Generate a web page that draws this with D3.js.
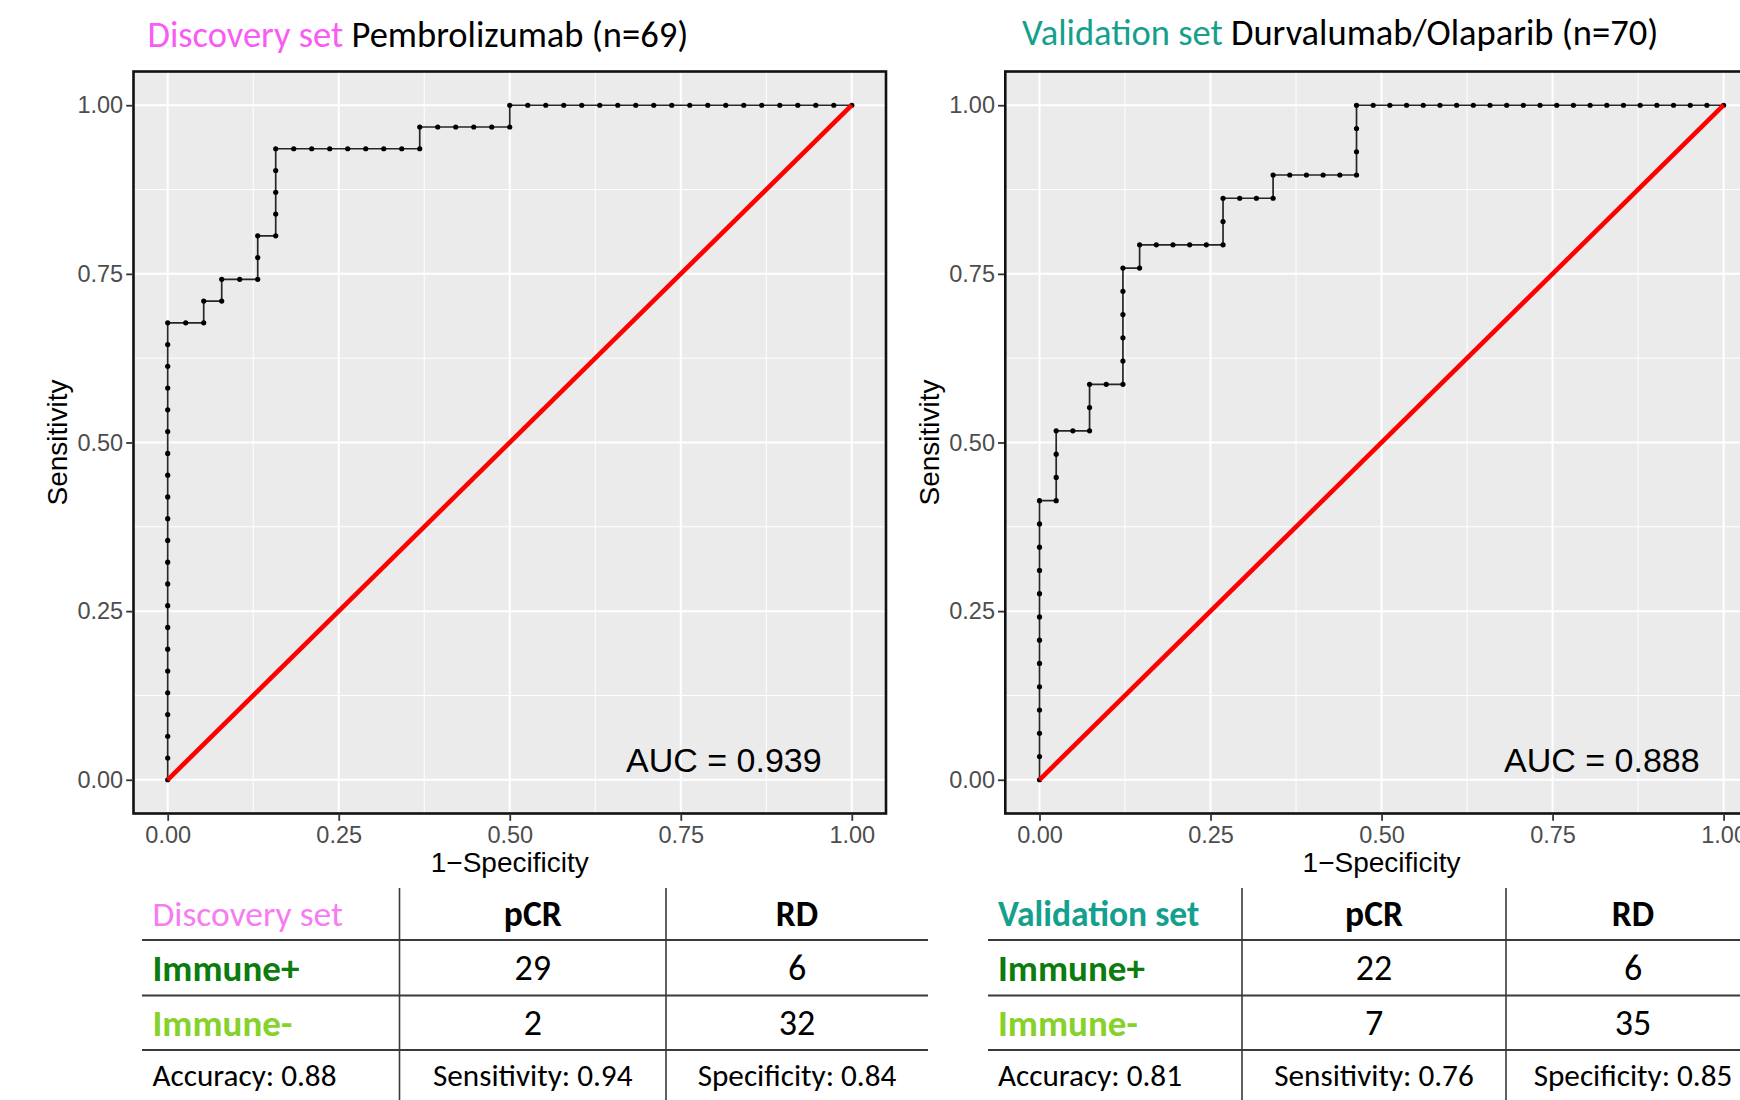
<!DOCTYPE html>
<html>
<head>
<meta charset="utf-8">
<script src="https://cdn.jsdelivr.net/npm/d3@7"></script>
<style>
  html, body { margin: 0; padding: 0; background: #ffffff; }
  svg { display: block; }
</style>
</head>
<body>
<svg id="chart" width="1740" height="1100"></svg>
<script>
// ---------------- DATA ----------------
// ROC points as counts: false positives (out of negatives) and true positives (out of positives)
const discoveryFP = [
  0,0,0,0,0,0,0,0,0,0,0,0,0,0,0,0,0,0,0,0,0,0,
  1,2,
  2,3,
  3,4,5,
  5,5,6,
  6,6,6,6,
  7,8,9,10,11,12,13,14,
  14,15,16,17,18,19,
  19,20,21,22,23,24,25,26,27,28,29,30,31,32,33,34,35,36,37,38
];
const discoveryTP = [
  0,1,2,3,4,5,6,7,8,9,10,11,12,13,14,15,16,17,18,19,20,21,
  21,21,
  22,22,
  23,23,23,
  24,25,25,
  26,27,28,29,
  29,29,29,29,29,29,29,29,
  30,30,30,30,30,30,
  31,31,31,31,31,31,31,31,31,31,31,31,31,31,31,31,31,31,31,31
];
const discoveryNegatives = 38;
const discoveryPositives = 31;

const validationFP = [
  0,0,0,0,0,0,0,0,0,0,0,0,0,
  1,
  1,1,1,
  2,3,
  3,3,
  4,5,
  5,5,5,5,5,
  6,
  6,
  7,8,9,10,11,
  11,11,
  12,13,14,
  14,
  15,16,17,18,19,
  19,19,19,
  20,21,22,23,24,25,26,27,28,29,30,31,32,33,34,35,36,37,38,39,40,41
];
const validationTP = [
  0,1,2,3,4,5,6,7,8,9,10,11,12,
  12,
  13,14,15,
  15,15,
  16,17,
  17,17,
  18,19,20,21,22,
  22,
  23,
  23,23,23,23,23,
  24,25,
  25,25,25,
  26,
  26,26,26,26,26,
  27,28,29,
  29,29,29,29,29,29,29,29,29,29,29,29,29,29,29,29,29,29,29,29,29,29
];
const validationNegatives = 41;
const validationPositives = 29;

const axisTicks = [0, 0.25, 0.5, 0.75, 1];
const minorTicks = [0.125, 0.375, 0.625, 0.875];
const aucLabels = ["AUC = 0.939", "AUC = 0.888"];
const setNames = ["Discovery set", "Validation set"];
const drugNames = ["Pembrolizumab (n=69)", "Durvalumab/Olaparib (n=70)"];
const tableColumns = ["pCR", "RD"];
const tableRows = ["Immune+", "Immune-"];
const discoveryCounts = [[29, 6], [2, 32]];
const validationCounts = [[22, 6], [7, 35]];
const discoveryMetrics = ["Accuracy: 0.88", "Sensitivity: 0.94", "Specificity: 0.84"];
const validationMetrics = ["Accuracy: 0.81", "Sensitivity: 0.76", "Specificity: 0.85"];

// ---------------- LAYOUT / STYLE ----------------
const AXIS_FONT = "'Liberation Sans', Arial, Helvetica, sans-serif";
const CAL_FONT = "Carlito, Calibri, Lato, 'Open Sans', sans-serif";
const setColors = ["#f95cf3", "#14a08d"];
const tableSetColors = ["#f77cf1", "#14a08d"];
const rowColors = ["#0c7c0c", "#86d12a"];

const panels = [
  { x0: 133.5, x1: 886, y0: 71.5, y1: 813.5,
    fp: discoveryFP, tp: discoveryTP, neg: discoveryNegatives, pos: discoveryPositives,
    auc: aucLabels[0], aucX: 0.813, titleX: 147.5, titleY: 46.5, ylabX: 67,
    table: { xs: [142, 399.5, 666, 928], textX: 152.5, counts: discoveryCounts, metrics: discoveryMetrics },
    set: setNames[0], drug: drugNames[0], color: setColors[0], tcolor: tableSetColors[0] },
  { x0: 1005.3, x1: 1757.8, y0: 71.5, y1: 813.5,
    fp: validationFP, tp: validationTP, neg: validationNegatives, pos: validationPositives,
    auc: aucLabels[1], aucX: 0.822, titleX: 1022, titleY: 44.5, ylabX: 939,
    table: { xs: [988, 1242, 1506, 1760], textX: 998, counts: validationCounts, metrics: validationMetrics },
    set: setNames[1], drug: drugNames[1], color: setColors[1], tcolor: tableSetColors[1] }
];

const svg = d3.select("#chart");
svg.append("rect").attr("width", 1740).attr("height", 1100).attr("fill", "#ffffff");
const defs = svg.append("defs");

panels.forEach((p, i) => {
  const x = d3.scaleLinear().domain([-0.05, 1.05]).range([p.x0, p.x1]);
  const y = d3.scaleLinear().domain([-0.05, 1.05]).range([p.y1, p.y0]);

  const clipId = "clip" + i;
  defs.append("clipPath").attr("id", clipId)
    .append("rect").attr("x", p.x0).attr("y", p.y0)
    .attr("width", p.x1 - p.x0).attr("height", p.y1 - p.y0);

  const g = svg.append("g");
  g.append("rect").attr("x", p.x0).attr("y", p.y0)
    .attr("width", p.x1 - p.x0).attr("height", p.y1 - p.y0).attr("fill", "#ebebeb");

  const grid = g.append("g").attr("clip-path", `url(#${clipId})`);
  grid.selectAll(".mx").data(minorTicks).join("line")
    .attr("x1", d => x(d)).attr("x2", d => x(d)).attr("y1", p.y0).attr("y2", p.y1)
    .attr("stroke", "#ffffff").attr("stroke-width", 1);
  grid.selectAll(".my").data(minorTicks).join("line")
    .attr("y1", d => y(d)).attr("y2", d => y(d)).attr("x1", p.x0).attr("x2", p.x1)
    .attr("stroke", "#ffffff").attr("stroke-width", 1);
  grid.selectAll(".Mx").data(axisTicks).join("line")
    .attr("x1", d => x(d)).attr("x2", d => x(d)).attr("y1", p.y0).attr("y2", p.y1)
    .attr("stroke", "#ffffff").attr("stroke-width", 2);
  grid.selectAll(".My").data(axisTicks).join("line")
    .attr("y1", d => y(d)).attr("y2", d => y(d)).attr("x1", p.x0).attr("x2", p.x1)
    .attr("stroke", "#ffffff").attr("stroke-width", 2);

  // ROC curve
  const pts = p.fp.map((f, k) => [f / p.neg, p.tp[k] / p.pos]);
  const line = d3.line().x(d => x(d[0])).y(d => y(d[1]));
  const plot = g.append("g").attr("clip-path", `url(#${clipId})`);
  plot.append("path").datum(pts).attr("d", line)
    .attr("fill", "none").attr("stroke", "#111").attr("stroke-width", 1.7)
    .attr("stroke-opacity", 0.9);
  plot.selectAll("circle").data(pts).join("circle")
    .attr("cx", d => x(d[0])).attr("cy", d => y(d[1])).attr("r", 2.6)
    .attr("fill", "#000");
  plot.append("path").datum([[0, 0], [1, 1]]).attr("d", line)
    .attr("fill", "none").attr("stroke", "#ff0000").attr("stroke-width", 4.6);

  // AUC annotation
  g.append("text").attr("x", x(p.aucX)).attr("y", y(0) - 8)
    .attr("text-anchor", "middle").attr("font-family", AXIS_FONT)
    .attr("font-size", 34).attr("fill", "#000").text(p.auc);

  // panel border
  g.append("rect").attr("x", p.x0).attr("y", p.y0)
    .attr("width", p.x1 - p.x0).attr("height", p.y1 - p.y0)
    .attr("fill", "none").attr("stroke", "#111").attr("stroke-width", 2.6);

  // axes
  const yAxis = d3.axisLeft(y).tickValues(axisTicks).tickFormat(d3.format(".2f"))
    .tickSize(6).tickPadding(3).tickSizeOuter(0);
  const xAxis = d3.axisBottom(x).tickValues(axisTicks).tickFormat(d3.format(".2f"))
    .tickSize(6).tickPadding(6).tickSizeOuter(0);
  const ya = g.append("g").attr("transform", `translate(${p.x0 - 1.3},0)`).call(yAxis);
  const xa = g.append("g").attr("transform", `translate(0,${p.y1 + 1.3})`).call(xAxis);
  [ya, xa].forEach(a => {
    a.select(".domain").remove();
    a.selectAll(".tick line").attr("stroke", "#333").attr("stroke-width", 1.8);
    a.selectAll(".tick text").attr("font-family", AXIS_FONT).attr("font-size", 23.5)
      .attr("fill", "#4d4d4d");
  });

  // axis titles
  g.append("text").attr("x", (x(0) + x(1)) / 2).attr("y", 872)
    .attr("text-anchor", "middle").attr("font-family", AXIS_FONT)
    .attr("font-size", 28).attr("fill", "#000").text("1\u2212Specificity");
  g.append("text").attr("transform", `translate(${p.ylabX},${(p.y0 + p.y1) / 2}) rotate(-90)`)
    .attr("text-anchor", "middle").attr("font-family", AXIS_FONT)
    .attr("font-size", 28).attr("fill", "#000").text("Sensitivity");

  // title
  const t = svg.append("text").attr("x", p.titleX).attr("y", p.titleY)
    .attr("font-family", CAL_FONT).attr("font-size", 36.5);
  t.append("tspan").attr("fill", p.color).text(p.set);
  t.append("tspan").attr("fill", "#000").text(" " + p.drug);

  // table
  const tb = p.table;
  const tg = svg.append("g");
  const rowsY = [888, 940, 995.5, 1050, 1100];
  [940, 995.5, 1050].forEach(yy => {
    tg.append("line").attr("x1", tb.xs[0]).attr("x2", tb.xs[3]).attr("y1", yy).attr("y2", yy)
      .attr("stroke", "#3a3a3a").attr("stroke-width", 2);
  });
  [tb.xs[1], tb.xs[2]].forEach(xx => {
    tg.append("line").attr("x1", xx).attr("x2", xx).attr("y1", 888).attr("y2", 1100)
      .attr("stroke", "#3a3a3a").attr("stroke-width", 1.6);
  });
  const rowMid = k => (rowsY[k] + rowsY[k + 1]) / 2;
  const colMid = c => (tb.xs[c] + tb.xs[c + 1]) / 2;
  tg.append("text").attr("x", tb.textX).attr("y", rowMid(0)).attr("dy", "0.35em")
    .attr("font-family", CAL_FONT).attr("font-size", 35.5).attr("fill", p.tcolor)
    .attr("font-weight", i === 1 ? 700 : 400).text(p.set);
  tableColumns.forEach((c, ci) => {
    tg.append("text").attr("x", colMid(ci + 1)).attr("y", rowMid(0)).attr("dy", "0.35em")
      .attr("text-anchor", "middle").attr("font-family", CAL_FONT).attr("font-size", 35.5)
      .attr("font-weight", 700).attr("fill", "#000").text(c);
  });
  tableRows.forEach((r, ri) => {
    tg.append("text").attr("x", tb.textX).attr("y", rowMid(ri + 1)).attr("dy", "0.35em")
      .attr("font-family", CAL_FONT).attr("font-size", 37).attr("font-weight", 700)
      .attr("fill", rowColors[ri]).text(r);
    tb.counts[ri].forEach((v, ci) => {
      tg.append("text").attr("x", colMid(ci + 1)).attr("y", rowMid(ri + 1)).attr("dy", "0.35em")
        .attr("text-anchor", "middle").attr("font-family", CAL_FONT).attr("font-size", 36)
        .attr("fill", "#000").text(v);
    });
  });
  tb.metrics.forEach((m, ci) => {
    tg.append("text")
      .attr("x", ci === 0 ? tb.textX : colMid(ci)).attr("y", rowMid(3)).attr("dy", "0.35em")
      .attr("text-anchor", ci === 0 ? "start" : "middle")
      .attr("font-family", CAL_FONT).attr("font-size", 31.2).attr("fill", "#000").text(m);
  });
});
</script>
</body>
</html>
